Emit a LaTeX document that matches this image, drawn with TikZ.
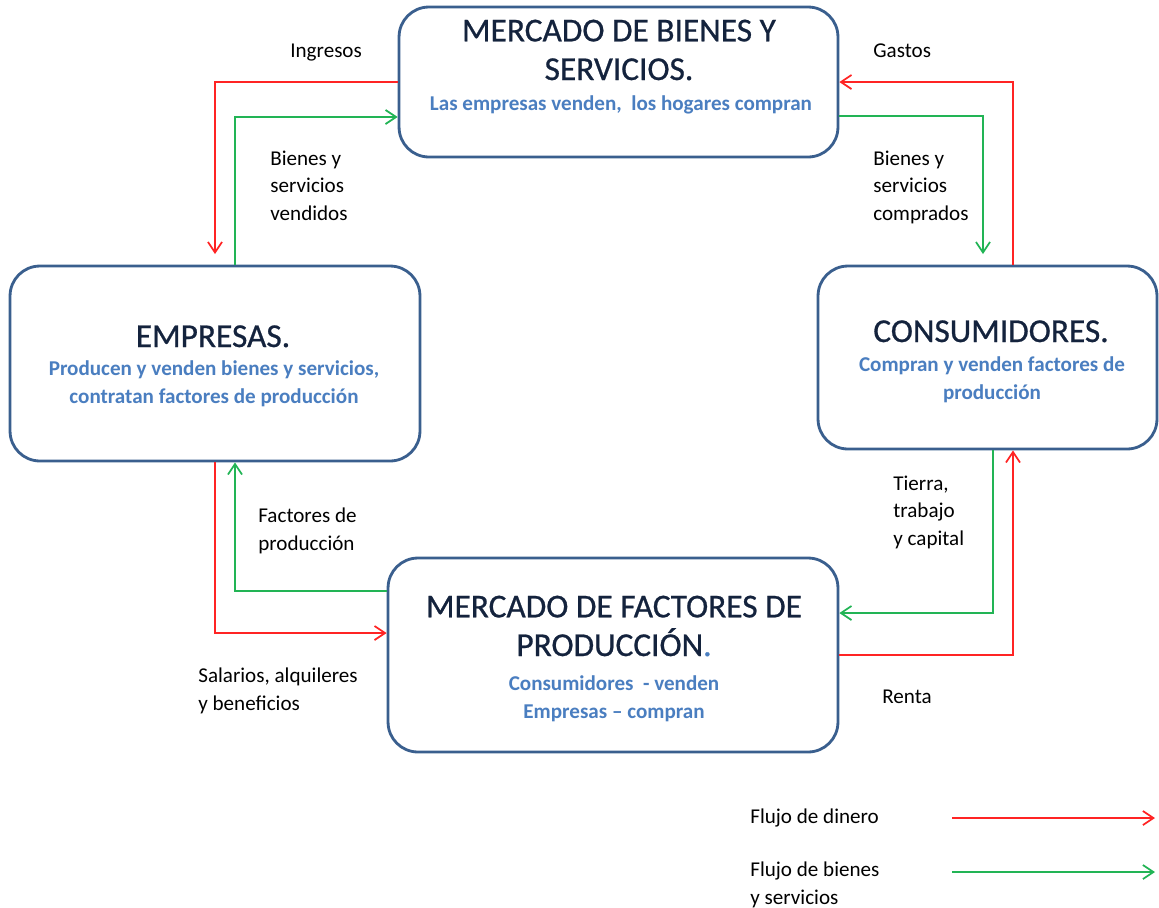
\documentclass[tikz,border=0pt]{standalone}
\usepackage{fontspec}
\setmainfont{Carlito}
\newfontfamily\titlefont{Carlito}[BoldFont=Carlito, BoldFeatures={FakeBold=0.7}]
\usetikzlibrary{arrows.meta}

\definecolor{boxline}{HTML}{3A5F8E}
\definecolor{titlenavy}{HTML}{14233D}
\definecolor{subblue}{HTML}{4A7EC0}
\definecolor{moneyred}{HTML}{FF2424}
\definecolor{goodsgreen}{HTML}{22B455}

\begin{document}
\begin{tikzpicture}[x=0.02cm, y=-0.02cm,
market/.style={draw=boxline, line width=1.6pt, rounded corners=17pt, fill=white, inner sep=0pt},
boxtitle/.style={anchor=base, align=center, inner sep=0pt, text=titlenavy, font=\titlefont\bfseries\fontsize{19}{22}\selectfont},
boxtext/.style={anchor=base, align=center, inner sep=0pt, text=subblue, font=\fontsize{12}{15.5}\selectfont\bfseries},
flowlabel/.style={anchor=base west, align=left, inner sep=0pt, font=\fontsize{12}{15.6}\selectfont},
money/.style={draw=moneyred, line width=1pt, -{Straight Barb[length=6pt,width=8pt]}},
goods/.style={draw=goodsgreen, line width=1pt, -{Straight Barb[length=6pt,width=8pt]}}]

\useasboundingbox (0,0) rectangle (1159,907);

% the four boxes (text nodes sit on the baseline of their last line)
\node[market, minimum width=8.78cm, minimum height=3cm] (mb) at (618.5,82) {};
\node[boxtitle] (mbtitle) at (619,80) {MERCADO DE BIENES Y\\SERVICIOS.};
\node[boxtext] (mbtext) at (621,110) {Las empresas venden, \ los hogares compran};

\node[market, minimum width=8.2cm, minimum height=3.9cm] (emp) at (215,363.5) {};
\node[boxtitle] (emptitle) at (213,347) {EMPRESAS.};
\node[boxtext] (emptext) at (214,403) {Producen y venden bienes y servicios,\\contratan factores de producción};

\node[market, minimum width=6.78cm, minimum height=3.66cm] (cons) at (987.5,357.5) {};
\node[boxtitle] (constitle) at (991,342) {CONSUMIDORES.};
\node[boxtext] (constext) at (992,399) {Compran y venden factores de\\producción};

\node[market, minimum width=9cm, minimum height=3.88cm] (mf) at (613,655) {};
\node[boxtitle] (mftitle) at (614,656) {MERCADO DE FACTORES DE\\PRODUCCIÓN{\color{subblue}.}};
\node[boxtext] (mftext) at (614,718) {Consumidores \ - venden\\Empresas -- compran};

% flows
\draw[money, shorten >=6pt] (mb.west) -| (emp.north);
\draw[goods] (emp.north -| 235,0) |- (mb.west |- 0,117);
\draw[money] (cons.north -| 1013,0) |- (mb.east);
\draw[goods, shorten >=6pt] (mb.east |- 0,116) -| (cons.north -| 983,0);
\draw[goods] (cons.south -| 993,0) |- (mf.east |- 0,613);
\draw[money] (mf.east) -| (cons.south -| 1013,0);
\draw[money] (emp.south) |- (mf.west |- 0,633);
\draw[goods] (mf.west |- 0,591) -| (emp.south -| 235,0);

\node[flowlabel] (ingresos) at (290,57) {Ingresos};
\node[flowlabel] (gastos) at (873,57) {Gastos};
\node[flowlabel] (vendidos) at (270,220) {Bienes y\\servicios\\vendidos};
\node[flowlabel] (comprados) at (873,220) {Bienes y\\servicios\\comprados};
\node[flowlabel] (factores) at (258,550) {Factores de\\producción};
\node[flowlabel] (salarios) at (198,710) {Salarios, alquileres\\y beneficios};
\node[flowlabel] (tierra) at (893,545) {Tierra,\\trabajo\\y capital};
\node[flowlabel] (renta) at (882,703) {Renta};

% legend
\node[flowlabel] (dinero) at (750,823) {Flujo de dinero};
\node[flowlabel] (bienes) at (750,904) {Flujo de bienes\\y servicios};
\coordinate (redstart) at (952,818);
\coordinate (redend) at (1155,818);
\coordinate (greenstart) at (952,872);
\coordinate (greenend) at (1155,872);
\draw[money] (redstart) -- (redend);
\draw[goods] (greenstart) -- (greenend);

\end{tikzpicture}
\end{document}
